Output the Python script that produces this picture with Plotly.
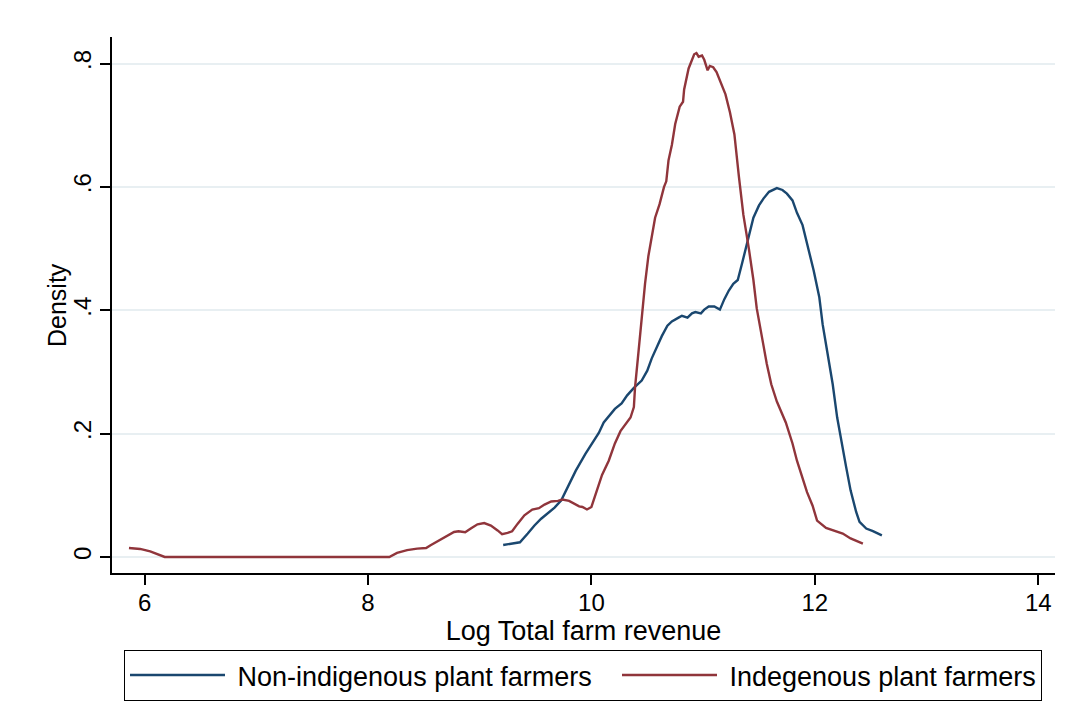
import plotly.graph_objects as go

# Indegenous plant farmers (red)
ind_x = [5.86, 5.96, 6.05, 6.12, 6.18, 7.0, 8.19, 8.26, 8.35, 8.44, 8.52, 8.56, 8.64, 8.71, 8.77, 8.81,
         8.87, 8.92, 8.98, 9.04, 9.10, 9.16, 9.20, 9.25, 9.29, 9.34, 9.40, 9.47, 9.53, 9.58, 9.64,
         9.70, 9.74, 9.80, 9.84, 9.89, 9.92, 9.96, 10.0, 10.04, 10.095, 10.155, 10.21, 10.26, 10.29,
         10.35, 10.38, 10.39, 10.42, 10.45, 10.48, 10.51, 10.54, 10.57, 10.61, 10.65, 10.67, 10.69,
         10.72, 10.75, 10.79, 10.82, 10.83, 10.87, 10.92, 10.94, 10.96, 10.99, 11.01, 11.04, 11.06,
         11.09, 11.12, 11.16, 11.20, 11.24, 11.28, 11.32, 11.36, 11.41, 11.45, 11.48, 11.53, 11.57,
         11.61, 11.66, 11.74, 11.80, 11.84, 11.89, 11.93, 11.98, 12.02, 12.10, 12.17, 12.25, 12.32, 12.43]
ind_y = [0.0146, 0.013, 0.009, 0.004, 0.0, 0.0, 0.0, 0.0065, 0.011, 0.0135, 0.0146, 0.019, 0.027, 0.035,
         0.0405, 0.0416, 0.040, 0.046, 0.053, 0.055, 0.051, 0.043, 0.037, 0.039, 0.0416, 0.054, 0.0675,
         0.0767, 0.079, 0.085, 0.090, 0.091, 0.093, 0.091, 0.0875, 0.082, 0.081, 0.077, 0.081, 0.103,
         0.133, 0.156, 0.184, 0.204, 0.212, 0.226, 0.243, 0.274, 0.330, 0.387, 0.443, 0.488, 0.516,
         0.550, 0.572, 0.600, 0.609, 0.643, 0.668, 0.702, 0.730, 0.738, 0.758, 0.792, 0.815, 0.817,
         0.811, 0.813, 0.806, 0.789, 0.796, 0.794, 0.786, 0.769, 0.750, 0.721, 0.685, 0.617, 0.555,
         0.499, 0.449, 0.403, 0.353, 0.313, 0.280, 0.252, 0.218, 0.184, 0.156, 0.128, 0.105, 0.083,
         0.059, 0.047, 0.043, 0.038, 0.030, 0.0216]

# Non-indigenous plant farmers (blue)
non_x = [9.21, 9.36, 9.43, 9.49, 9.55, 9.61, 9.67, 9.73, 9.76, 9.80, 9.86, 9.946, 10.006, 10.066, 10.11,
         10.17, 10.21, 10.27, 10.32, 10.38, 10.45, 10.50, 10.54, 10.59, 10.63, 10.68, 10.72, 10.78,
         10.81, 10.86, 10.90, 10.93, 10.98, 11.01, 11.05, 11.10, 11.13, 11.15, 11.19, 11.23, 11.27,
         11.31, 11.35, 11.38, 11.41, 11.45, 11.50, 11.54, 11.59, 11.63, 11.66, 11.71, 11.75, 11.80,
         11.84, 11.89, 11.93, 11.99, 12.04, 12.07, 12.11, 12.16, 12.20, 12.24, 12.28, 12.32, 12.37,
         12.40, 12.46, 12.52, 12.60]
non_y = [0.0194, 0.0238, 0.038, 0.051, 0.062, 0.071, 0.080, 0.092, 0.103, 0.119, 0.140, 0.167, 0.184,
         0.201, 0.218, 0.232, 0.240, 0.249, 0.262, 0.274, 0.286, 0.302, 0.322, 0.342, 0.358, 0.375,
         0.382, 0.388, 0.391, 0.388, 0.395, 0.397, 0.395, 0.401, 0.406, 0.406, 0.403, 0.401, 0.418,
         0.432, 0.443, 0.449, 0.477, 0.499, 0.522, 0.550, 0.570, 0.581, 0.592, 0.596, 0.598, 0.595,
         0.589, 0.578, 0.558, 0.538, 0.508, 0.464, 0.421, 0.377, 0.334, 0.280, 0.226, 0.183, 0.146,
         0.108, 0.073, 0.057, 0.046, 0.042, 0.035]

x_ticks = [6, 8, 10, 12, 14]
y_ticks = [0, 0.2, 0.4, 0.6, 0.8]
y_tick_text = ["0", ".2", ".4", ".6", ".8"]
series_names = ["Non-indigenous plant farmers", "Indegenous plant farmers"]

FONT = "Liberation Sans, Arial, sans-serif"
NBSP = "\u00a0"

fig = go.Figure()
fig.add_trace(go.Scatter(x=non_x, y=non_y, mode="lines", name=NBSP + series_names[0],
                         line=dict(color="#1a476f", width=2.4), legendwidth=382))
fig.add_trace(go.Scatter(x=ind_x, y=ind_y, mode="lines", name=NBSP + series_names[1],
                         line=dict(color="#90353b", width=2.4), legendwidth=314))

fig.update_layout(
    width=1071, height=705,
    margin=dict(l=112, r=16, t=37, b=132, autoexpand=False),
    paper_bgcolor="white", plot_bgcolor="white",
    font=dict(family=FONT, color="black", size=24),
    showlegend=True,
    legend=dict(orientation="h", x=583 / 1071, xanchor="center", xref="container",
                y=55 / 705, yanchor="top", yref="container",
                bordercolor="black", borderwidth=1, font=dict(size=27, family=FONT),
                itemwidth=95, bgcolor="white"),
    xaxis=dict(range=[5.708, 14.15], tickvals=x_ticks, showgrid=False, zeroline=False,
               showline=True, linecolor="black", linewidth=1.5, ticks="outside", ticklen=10,
               tickcolor="black", tickwidth=1.5, tickfont=dict(size=24), ticklabelstandoff=-3,
               title=dict(text="Log Total farm revenue", font=dict(size=27), standoff=0)),
    yaxis=dict(range=[-0.026, 0.843], tickvals=y_ticks, ticktext=y_tick_text, tickangle=-90,
               showgrid=True, gridcolor="#e8eff2", gridwidth=1.5, zeroline=False,
               showline=True, linecolor="black", linewidth=1.5, ticks="outside", ticklen=10,
               tickcolor="black", tickwidth=1.5, tickfont=dict(size=24)),
    annotations=[dict(text="Density", textangle=-90, xref="paper", yref="paper",
                      x=0, xshift=-55, y=0.5, xanchor="center", yanchor="middle",
                      showarrow=False, font=dict(size=25, family=FONT, color="black"))],
)

fig.write_html("out.html")
